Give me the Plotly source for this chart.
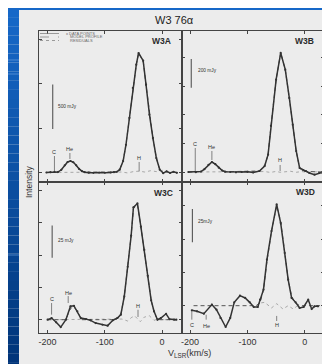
import plotly.graph_objects as go

W, H = 330, 364

# ---------------- data ----------------
TITLE = "W3 76α"
PANELS = ["W3A", "W3B", "W3C", "W3D"]
X_TICKS = [-200, -100, 0]
X_TICK_TEXT = ["-200", "-100", "0"]
X_LABEL = "V<sub>LSR</sub>(km/s)"
Y_LABEL = "Intensity"
LEGEND_TEXT = ["x DATA POINTS", "MODEL PROFILE", "RESIDUALS"]

# W3A  (mJy)
w3a_v = [-202, -195, -188, -182, -176, -170, -165, -160, -155, -150, -145, -140, -135, -128, -120, -110,
         -100, -90, -84, -79, -74, -68, -63, -57, -51, -45, -41, -33, -28, -22, -16, -10, -4, 2, 8, 14, 20, 26]
w3a_data = [0, 3, 6, 5, 30, 80, 118, 129, 115, 80, 40, 15, 3, -2, -4, 0,
            -3, 0, 3, 8, 31, 129, 312, 613, 950, 1212, 1343, 1257, 987, 650, 388, 163, 31, -8, 12, -6, 8, -4]
w3a_model_v = [-202, -182, -176, -170, -165, -160, -155, -150, -145, -140, -135, -79, -74, -68, -63, -57,
               -51, -45, -41, -33, -28, -22, -16, -10, -4, 2, 26]
w3a_model = [0, 5, 28, 78, 117, 128, 116, 82, 42, 16, 3, 6, 35, 130, 315, 615,
             948, 1210, 1340, 1255, 985, 652, 390, 165, 33, 0, 0]
w3a_resid_v = [-202, -150, -100, -80, -70, -60, -50, -40, -30, -20, -10, 0, 10, 26]
w3a_resid = [0, 0, 0, 0, 5, -5, 10, 15, 5, 20, 10, 25, 5, 0]

# W3B  (mJy)
w3b_v = [-203, -190, -181, -175, -168, -162, -156, -150, -144, -139, -130, -120, -110, -100, -90, -79,
         -70, -64, -59, -50, -42, -34, -27, -21, -15, -9, -3, 2, 8, 17, 25, 30]
w3b_data = [0, -1, 3, 20, 50, 70, 55, 30, 10, 2, 0, -2, 0, 1, -3, 7,
            42, 121, 322, 646, 833, 716, 518, 331, 147, 28, 14, 7, -7, -19, -7, -3]
w3b_model_v = [-203, -181, -175, -168, -162, -156, -150, -144, -139, -79, -70, -64, -59, -50, -42, -34,
               -27, -21, -15, -9, -3, 30]
w3b_model = [0, 3, 20, 50, 70, 55, 30, 10, 2, 7, 42, 121, 322, 646, 833, 716,
             518, 331, 147, 28, 5, 0]
w3b_resid_v = [-203, -100, -80, -70, -60, -50, -43, -35, -25, -15, -5, 5, 15, 30]
w3b_resid = [0, 0, 0, 3, -3, 4, -2, 3, 5, -2, 3, -3, 2, 0]

# W3C  (mJy)
w3c_v = [-200, -193, -185, -177, -168, -160, -154, -148, -142, -133, -125, -116, -104, -95, -86, -78,
         -72, -66, -60, -54, -50, -43, -37, -31, -25, -19, -14, -8, -2, 7, 13, 21, 25]
w3c_data = [0, 1.3, -2, -5.7, 0, 10.4, 10.8, 6.5, 1.3, 0.5, -0.5, -2.6, -3.9, -4.6, -0.5, 1.3,
            3.9, 18, 41, 65, 87, 90, 72, 54, 34, 15, 6.5, 0, 1.3, 4.6, 0.5, 0, 0]
w3c_model_v = [-200, -168, -162, -157, -152, -146, -140, -80, -72, -66, -60, -54, -50, -43, -37, -31,
               -25, -19, -14, -8, 25]
w3c_model = [0, 0, 7, 10, 9, 5, 0, 0, 4, 18, 41, 65, 86, 89, 72, 54,
             34, 15, 6, 0, 0]
w3c_resid_v = [-200, -80, -70, -60, -54, -48, -43, -38, -31, -22, -14, -8, 0, 25]
w3c_resid = [0, 0, 0.5, -1, 1.5, 3, 0.5, -1.5, 2, 3, -0.5, 0.5, 0, 0]

# W3D  (mJy)
w3d_v = [-197, -188, -176, -162, -154, -147, -138, -130, -123, -113, -104, -96, -89, -82, -78, -72,
         -66, -58, -49, -42, -35, -29, -23, -16, -9, -2, 6, 12, 17, 23]
w3d_data = [-3.5, -4.2, -6, 0.8, -3, -9.2, -16, -9.2, 2.5, 7.5, 5.8, 2.5, -1, -1, 4.5, 12,
            34.5, 56, 76, 62, 39.5, 19.5, 5.8, 2.5, -1.7, -1, 4.5, -2.5, -0.5, -0.5]
w3d_model_v = [-194, -85, -78, -72, -66, -58, -49, -42, -35, -29, -23, -16, -9, 31]
w3d_model = [0, 0, 2, 12, 33, 56, 75, 63, 40, 20, 7, 2, 0, 0]
w3d_resid_v = [-85, -78, -70, -58, -49, -38, -29, -20, -14, -8]
w3d_resid = [0, 2, 2.5, -1.7, 1.5, -2.5, 0, -2.5, -0.5, 0]

# recombination-line marker velocities (km/s)
w3a_lines = {"C": -188, "He": -161, "H": -40}
w3b_lines = {"C": -191, "He": -162, "H": -43}
w3c_lines = {"C": -193, "He": -164, "H": -42}
w3d_lines = {"C": -197, "He": -172, "H": -49}

scale_bar_mjy = [500, 200, 25, 25]
scale_bar_text = ["500 mJy", "200 mJy", "25 mJy", "25mJy"]
y_tick_step = [500, 200, 25, 25]

# ---------------- layout / style ----------------
series = {
    "W3A": (w3a_v, w3a_data, w3a_model_v, w3a_model, w3a_resid_v, w3a_resid, w3a_lines),
    "W3B": (w3b_v, w3b_data, w3b_model_v, w3b_model, w3b_resid_v, w3b_resid, w3b_lines),
    "W3C": (w3c_v, w3c_data, w3c_model_v, w3c_model, w3c_resid_v, w3c_resid, w3c_lines),
    "W3D": (w3d_v, w3d_data, w3d_model_v, w3d_model, w3d_resid_v, w3d_resid, w3d_lines),
}
# pixel geometry of each panel and axis ranges
geom = {
    "W3A": dict(xd=(31, 173.5), yd=(22.5, 174), xr=(-215, 34), yr=(-107, 1596), lab=(153, 33),
                bar_v=-191, bar_lo=490, lab_v=-186, lab_y=745,
                marks={"C": (17, 185, 232), "He": (152, 219, 262), "H": (13, 118, 158)}),
    "W3B": dict(xd=(173.5, 315.7), yd=(22.5, 174), xr=(-215, 33), yr=(-70, 990), lab=(296, 33),
                bar_v=-198, bar_lo=590, lab_v=-190, lab_y=712,
                marks={"C": (7, 168, 198), "He": (84, 147, 176), "H": (7, 49, 84)}),
    "W3C": dict(xd=(31, 173.5), yd=(174, 325), xr=(-215, 34), yr=(-10.3, 106.6), lab=(155, 185),
                bar_v=-192, bar_lo=48, lab_v=-186, lab_y=61,
                marks={"C": (3.9, 12.9, 15.8), "He": (12.9, 18.3, 21.0), "H": (2.1, 7.7, 10.6)}),
    "W3D": dict(xd=(173.5, 315.7), yd=(174, 325), xr=(-215, 33), yr=(-20.5, 92.8), lab=(297, 184),
                bar_v=-196, bar_lo=47.5, lab_v=-190, lab_y=63,
                marks={"C": (-4, -10.5, -14.6), "He": (-6.8, -10.5, -15.2), "H": (-7.7, -11.5, -14.6)}),
}

INK = "#333333"
FRAME = "#444444"
BG = "#ececec"
FONT = "Liberation Sans"


def px(x):
    return x / W


def py(y):
    return 1 - y / H


fig = go.Figure()
annotations = []
shapes = []

for i, name in enumerate(PANELS):
    k = "" if i == 0 else str(i + 1)
    xa, ya = "x" + k, "y" + k
    v, d, mv, m, rv, r, lines = series[name]
    g = geom[name]

    # residuals (dotted light)
    fig.add_trace(go.Scatter(x=rv, y=r, mode="lines", xaxis=xa, yaxis=ya,
                             line=dict(color="#a8a8a8", width=1, dash="dot"), showlegend=False,
                             hoverinfo="skip"))
    # model (dashed)
    fig.add_trace(go.Scatter(x=mv, y=m, mode="lines", xaxis=xa, yaxis=ya,
                             line=dict(color="#555555", width=1, dash="4px,3px"), showlegend=False,
                             hoverinfo="skip"))
    # data
    fig.add_trace(go.Scatter(x=v, y=d, mode="lines+markers", xaxis=xa, yaxis=ya,
                             line=dict(color=INK, width=1.5), marker=dict(size=2.2, color=INK),
                             showlegend=False))
    # line markers C / He / H
    for lab, vel in lines.items():
        lo, hi, ty = g["marks"][lab]
        fig.add_trace(go.Scatter(x=[vel, vel], y=[lo, hi], mode="lines", xaxis=xa, yaxis=ya,
                                 line=dict(color="#666666", width=0.8), showlegend=False,
                                 hoverinfo="skip"))
        annotations.append(dict(x=vel, y=ty, xref=xa, yref=ya, text=lab, showarrow=False,
                                font=dict(size=5.5, color="#333", family=FONT),
                                xanchor="center", yanchor="middle"))
    # scale bar
    fig.add_trace(go.Scatter(x=[g["bar_v"], g["bar_v"]],
                             y=[g["bar_lo"], g["bar_lo"] + scale_bar_mjy[i]], mode="lines",
                             xaxis=xa, yaxis=ya, line=dict(color="#555", width=1.1),
                             showlegend=False, hoverinfo="skip"))
    annotations.append(dict(x=g["lab_v"], y=g["lab_y"], xref=xa, yref=ya, text=scale_bar_text[i],
                            showarrow=False, font=dict(size=4.8, color="#333", family=FONT),
                            xanchor="left", yanchor="middle"))
    # panel label
    annotations.append(dict(x=px(g["lab"][0]), y=py(g["lab"][1]), xref="paper", yref="paper",
                            text="<b>%s</b>" % name, showarrow=False,
                            font=dict(size=8.5, color="#2a2a2a", family=FONT),
                            xanchor="center", yanchor="middle"))

    bottom = i >= 2
    axis_common = dict(showline=True, linecolor=FRAME, linewidth=1, mirror="ticks",
                       ticks="inside", ticklen=3, tickcolor=FRAME, tickwidth=1,
                       showgrid=False, zeroline=False)
    fig.layout["xaxis" + k] = dict(
        axis_common, domain=[px(g["xd"][0]), px(g["xd"][1])], range=list(g["xr"]),
        anchor=ya, tickmode="array", tickvals=X_TICKS, ticktext=X_TICK_TEXT,
        showticklabels=bottom, tickfont=dict(size=9, color="#333", family=FONT))
    fig.layout["yaxis" + k] = dict(
        axis_common, domain=[py(g["yd"][1]), py(g["yd"][0])], range=list(g["yr"]),
        anchor=xa, tick0=0, dtick=y_tick_step[i], showticklabels=False)

# legend inside W3A (drawn manually, tiny)
leg_rows = [(25.5, "solid"), (29.0, "dash"), (32.5, "dot")]
for (yy, dash), txt, tx in zip(leg_rows, LEGEND_TEXT, [56, 60, 60]):
    shapes.append(dict(type="line", xref="paper", yref="paper", x0=px(32), x1=px(51),
                       y0=py(yy), y1=py(yy), line=dict(color="#777", width=0.7, dash=dash)))
    annotations.append(dict(x=px(tx), y=py(yy), xref="paper", yref="paper", text=txt,
                            showarrow=False, font=dict(size=4, color="#666", family=FONT),
                            xanchor="left", yanchor="middle"))

# title and axis titles
annotations.append(dict(x=px(166), y=py(12), xref="paper", yref="paper", text=TITLE,
                        showarrow=False, font=dict(size=11, color="#222", family=FONT),
                        xanchor="center", yanchor="middle"))
annotations.append(dict(x=px(21), y=py(174), xref="paper", yref="paper", text=Y_LABEL,
                        showarrow=False, textangle=-90,
                        font=dict(size=8.5, color="#333", family=FONT),
                        xanchor="center", yanchor="middle"))
annotations.append(dict(x=px(181), y=py(345), xref="paper", yref="paper", text=X_LABEL,
                        showarrow=False, font=dict(size=9, color="#333", family=FONT),
                        xanchor="center", yanchor="middle"))

# slide background: blue strip on the left and top
n = 40
top_c = (22, 104, 200)
bot_c = (0, 52, 120)
for j in range(n):
    t = j / (n - 1)
    c = tuple(int(round(a + (b - a) * t)) for a, b in zip(top_c, bot_c))
    shapes.append(dict(type="rect", xref="paper", yref="paper", layer="below",
                       x0=0, x1=px(11), y0=py(H * (j + 1) / n), y1=py(H * j / n),
                       fillcolor="rgb(%d,%d,%d)" % c, line=dict(width=0)))
shapes.append(dict(type="rect", xref="paper", yref="paper", layer="below",
                   x0=0, x1=1, y0=py(2), y1=1, fillcolor="rgb(22,104,200)", line=dict(width=0)))
for yy in (52, 66, 247):
    shapes.append(dict(type="line", xref="paper", yref="paper", layer="below",
                       x0=0, x1=px(11), y0=py(yy), y1=py(yy),
                       line=dict(color="rgba(120,170,230,0.6)", width=1)))

fig.update_layout(
    width=W, height=H, margin=dict(l=0, r=0, t=0, b=0),
    paper_bgcolor=BG, plot_bgcolor=BG,
    annotations=annotations, shapes=shapes, showlegend=False,
)

fig.write_html("out.html")
